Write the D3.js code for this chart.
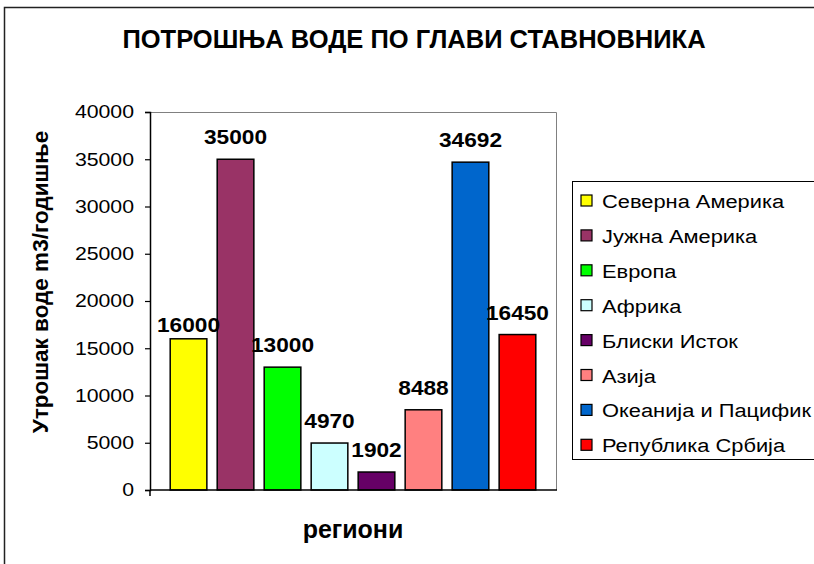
<!DOCTYPE html>
<html>
<head>
<meta charset="utf-8">
<script src="https://cdn.jsdelivr.net/npm/d3@7"></script>
<style>
  body { margin: 0; background: #fff; }
  svg { display: block; font-family: "Liberation Sans", Arial, sans-serif; }
</style>
</head>
<body>
<div id="chart"></div>
<script>
var regions = ["Северна Америка", "Јужна Америка", "Европа", "Африка", "Блиски Исток", "Азија", "Океанија и Пацифик", "Република Србија"];
var values = [16000, 35000, 13000, 4970, 1902, 8488, 34692, 16450];
var colors = ["#FFFF00", "#993366", "#00FF00", "#CCFFFF", "#660066", "#FF8080", "#0066CC", "#FF0000"];
var yTicks = [0, 5000, 10000, 15000, 20000, 25000, 30000, 35000, 40000];

var width = 814, height = 564;
var plot = {left: 150, right: 556, top: 112, bottom: 490};
var stretch = 1.15; // the original text is drawn a bit wide

var svg = d3.select("#chart").append("svg")
    .attr("width", width)
    .attr("height", height);

// chart frame (only top and left edges visible)
svg.append("path")
    .attr("d", "M4.5,564 L4.5,7.5 L814,7.5")
    .attr("fill", "none")
    .attr("stroke", "#222")
    .attr("stroke-width", 1.5);

var y = d3.scaleLinear()
    .domain([0, 40000])
    .range([plot.bottom, plot.top]);

var x = d3.scaleBand()
    .domain(regions)
    .range([plot.left, plot.right])
    .paddingInner(0.22)
    .paddingOuter(0.43);

// plot area border: top and right in gray
svg.append("path")
    .attr("d", "M" + plot.left + "," + (plot.top + 0.5) + " L" + (plot.right + 0.5) + "," + (plot.top + 0.5) + " L" + (plot.right + 0.5) + "," + plot.bottom)
    .attr("fill", "none")
    .attr("stroke", "#808080")
    .attr("stroke-width", 1);

var yAxis = svg.append("g")
    .attr("transform", "translate(" + plot.left + ",0)")
    .call(d3.axisLeft(y).tickValues(yTicks).tickSize(5).tickPadding(10).tickFormat(d3.format("d")));
yAxis.select(".domain").attr("stroke", "#000").attr("stroke-width", 1.5);
yAxis.selectAll(".tick line").attr("stroke", "#000").attr("stroke-width", 1.2);
yAxis.selectAll(".tick text")
    .attr("font-size", "18.5px")
    .attr("font-family", "Liberation Sans, Arial, sans-serif")
    .attr("fill", "#000")
    .attr("x", -16 / stretch)
    .attr("transform", "scale(" + stretch + ",1)");

svg.selectAll(".bar")
    .data(values)
    .enter().append("rect")
    .attr("class", "bar")
    .attr("x", function(d, i){ return x(regions[i]); })
    .attr("y", function(d){ return y(d); })
    .attr("width", x.bandwidth())
    .attr("height", function(d){ return y(0) - y(d); })
    .attr("fill", function(d, i){ return colors[i]; })
    .attr("stroke", "#000")
    .attr("stroke-width", 1.5);

// x axis line
svg.append("line")
    .attr("x1", plot.left).attr("x2", plot.right + 1)
    .attr("y1", plot.bottom).attr("y2", plot.bottom)
    .attr("stroke", "#000")
    .attr("stroke-width", 1.5);
svg.append("line")
    .attr("x1", plot.left).attr("x2", plot.left)
    .attr("y1", plot.bottom).attr("y2", plot.bottom + 6)
    .attr("stroke", "#000")
    .attr("stroke-width", 1.5);

// value labels
svg.selectAll(".lbl")
    .data(values)
    .enter().append("text")
    .attr("class", "lbl")
    .attr("transform", function(d, i){
        var cx = x(regions[i]) + x.bandwidth() / 2;
        var cy = y(d) - (i === 0 ? 7 : 15);
        return "translate(" + cx + "," + cy + ") scale(1.08,1)";
    })
    .attr("text-anchor", "middle")
    .attr("font-size", "21px")
    .attr("font-weight", "bold")
    .text(function(d){ return d; });

// title
svg.append("text")
    .attr("x", 414)
    .attr("y", 48)
    .attr("text-anchor", "middle")
    .attr("font-size", "25.5px")
    .attr("font-weight", "bold")
    .text("ПОТРОШЊА ВОДЕ ПО ГЛАВИ СТАВНОВНИКА");

// axis titles
svg.append("text")
    .attr("transform", "translate(48,282) rotate(-90)")
    .attr("text-anchor", "middle")
    .attr("font-size", "22.5px")
    .attr("font-weight", "bold")
    .text("Утрошак воде m3/годишње");

svg.append("text")
    .attr("x", 353)
    .attr("y", 538)
    .attr("text-anchor", "middle")
    .attr("font-size", "25px")
    .attr("font-weight", "bold")
    .text("региони");

// legend
var legend = svg.append("g").attr("transform", "translate(572,181)");
legend.append("rect")
    .attr("x", 0.5).attr("y", 0.5)
    .attr("width", 260).attr("height", 278)
    .attr("fill", "#fff")
    .attr("stroke", "#000")
    .attr("stroke-width", 1);

var items = legend.selectAll(".item")
    .data(regions)
    .enter().append("g")
    .attr("class", "item")
    .attr("transform", function(d, i){ return "translate(0," + (20 + i * 34.9) + ")"; });
items.append("rect")
    .attr("x", 9).attr("y", -6)
    .attr("width", 11).attr("height", 11)
    .attr("fill", function(d, i){ return colors[i]; })
    .attr("stroke", "#000")
    .attr("stroke-width", 1.2);
items.append("text")
    .attr("transform", "translate(30,7) scale(" + stretch + ",1)")
    .attr("font-size", "19px")
    .text(function(d){ return d; });
</script>
</body>
</html>
